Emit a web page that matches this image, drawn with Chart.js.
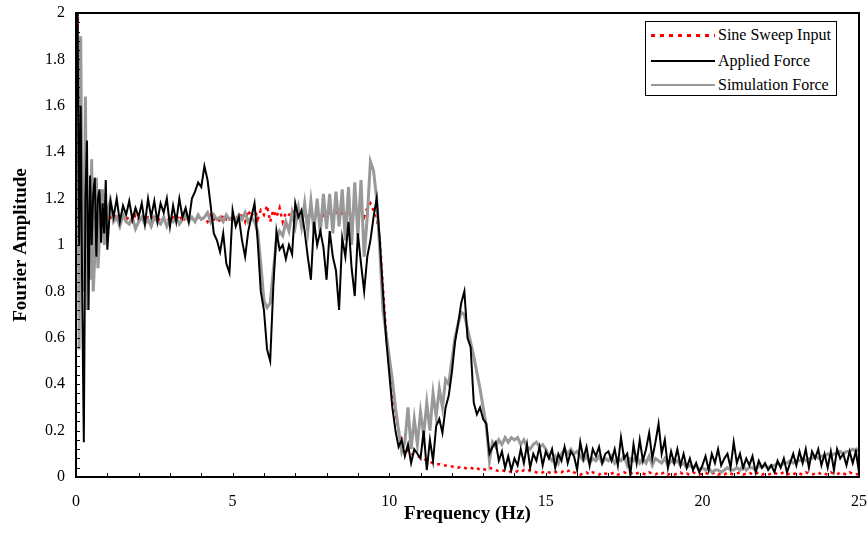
<!DOCTYPE html>
<html>
<head>
<meta charset="utf-8">
<script src="https://cdn.jsdelivr.net/npm/chart.js@4.4.1/dist/chart.umd.min.js"></script>
<style>
  html, body { margin: 0; padding: 0; background: #fff; }
  #wrap { position: relative; width: 868px; height: 547px; }
  #legend {
    position: absolute; left: 645px; top: 21px; width: 192px; height: 75px;
    border: 1px solid #000; background: #fff; box-sizing: border-box;
    font-family: 'Liberation Serif', 'Times New Roman', serif; font-size: 16px; color: #000;
  }
  .row { position: absolute; left: 5px; height: 20px; display: flex; align-items: center; }
  .swatch { width: 64px; height: 3px; margin-right: 3px; }
  .sw-red { background: repeating-linear-gradient(90deg, #f00 0 4px, transparent 4px 9px); }
  .sw-black { height: 2px; background: #000; }
  .sw-gray { height: 2px; background: #999; }
</style>
</head>
<body>
<div id="wrap">
  <canvas id="chart" width="868" height="547"></canvas>
  <div id="legend">
    <div class="row" style="top:3px"><div class="swatch sw-red"></div>Sine Sweep Input</div>
    <div class="row" style="top:29px"><div class="swatch sw-black"></div>Applied Force</div>
    <div class="row" style="top:53px"><div class="swatch sw-gray"></div>Simulation Force</div>
  </div>
</div>
<script>
'use strict';

// ── FREQUENCY GRID (Hz) ──
const FREQ = [
  0, 0.05, 0.1, 0.15, 0.2, 0.25, 0.3, 0.35, 0.4, 0.45, 0.5, 0.55, 0.6, 0.65, 0.7, 0.75, 0.8, 0.85, 0.9, 0.95, 1.0,
  1.1, 1.2, 1.3, 1.4, 1.5, 1.6, 1.7, 1.8, 1.9, 2.0,
  2.1, 2.2, 2.3, 2.4, 2.5, 2.6, 2.7, 2.8, 2.9, 3.0,
  3.1, 3.2, 3.3, 3.4, 3.5, 3.6, 3.7, 3.8, 3.9, 4.0,
  4.1, 4.2, 4.3, 4.4, 4.5, 4.6, 4.7, 4.8, 4.9, 5.0,
  5.1, 5.2, 5.3, 5.4, 5.5, 5.6, 5.7, 5.8, 5.9, 6.0,
  6.1, 6.2, 6.3, 6.4, 6.5, 6.6, 6.7, 6.8, 6.9, 7.0,
  7.1, 7.2, 7.3, 7.4, 7.5, 7.6, 7.7, 7.8, 7.9, 8.0,
  8.1, 8.2, 8.3, 8.4, 8.5, 8.6, 8.7, 8.8, 8.9, 9.0,
  9.1, 9.2, 9.3, 9.4, 9.5, 9.6, 9.7, 9.8, 9.9, 10.0,
  10.1, 10.2, 10.3, 10.4, 10.5, 10.6, 10.7, 10.8, 10.9, 11.0,
  11.1, 11.2, 11.3, 11.4, 11.5, 11.6, 11.7, 11.8, 11.9, 12.0,
  12.1, 12.2, 12.3, 12.4, 12.5, 12.6, 12.7, 12.8, 12.9, 13.0,
  13.1, 13.2, 13.3, 13.4, 13.5, 13.6, 13.7, 13.8, 13.9, 14.0,
  14.1, 14.2, 14.3, 14.4, 14.5, 14.6, 14.7, 14.8, 14.9, 15.0,
  15.1, 15.2, 15.3, 15.4, 15.5, 15.6, 15.7, 15.8, 15.9, 16.0,
  16.1, 16.2, 16.3, 16.4, 16.5, 16.6, 16.7, 16.8, 16.9, 17.0,
  17.1, 17.2, 17.3, 17.4, 17.5, 17.6, 17.7, 17.8, 17.9, 18.0,
  18.1, 18.2, 18.3, 18.4, 18.5, 18.6, 18.7, 18.8, 18.9, 19.0,
  19.1, 19.2, 19.3, 19.4, 19.5, 19.6, 19.7, 19.8, 19.9, 20.0,
  20.1, 20.2, 20.3, 20.4, 20.5, 20.6, 20.7, 20.8, 20.9, 21.0,
  21.1, 21.2, 21.3, 21.4, 21.5, 21.6, 21.7, 21.8, 21.9, 22.0,
  22.1, 22.2, 22.3, 22.4, 22.5, 22.6, 22.7, 22.8, 22.9, 23.0,
  23.1, 23.2, 23.3, 23.4, 23.5, 23.6, 23.7, 23.8, 23.9, 24.0,
  24.1, 24.2, 24.3, 24.4, 24.5, 24.6, 24.7, 24.8, 24.9, 25.0
];

// ── SINE SWEEP INPUT (red dotted) ──
const SWEEP = [
  0.78, 2.0, 1.35, 1.15, 1.1, 1.12, 1.1, 1.13, 1.11, 1.12, 1.1, 1.12, 1.11, 1.13, 1.1, 1.12, 1.11, 1.12, 1.1, 1.12, 1.11,
  1.12, 1.11, 1.13, 1.1, 1.12, 1.11, 1.12, 1.1, 1.13, 1.11,
  1.12, 1.1, 1.12, 1.11, 1.13, 1.1, 1.12, 1.11, 1.12, 1.1,
  1.12, 1.11, 1.13, 1.1, 1.12, 1.11, 1.12, 1.1, 1.12, 1.11,
  1.12, 1.1, 1.13, 1.11, 1.12, 1.1, 1.13, 1.11, 1.12, 1.1,
  1.13, 1.11, 1.14, 1.1, 1.15, 1.12, 1.16, 1.11, 1.15, 1.13,
  1.17, 1.1, 1.15, 1.12, 1.16, 1.1, 1.14, 1.13, 1.15, 1.12,
  1.13, 1.11, 1.14, 1.12, 1.13, 1.11, 1.14, 1.12, 1.13, 1.11,
  1.14, 1.12, 1.15, 1.11, 1.14, 1.13, 1.15, 1.12, 1.14, 1.13,
  1.15, 1.12, 1.16, 1.18, 1.15, 1.12, 1.02, 0.82, 0.62, 0.48,
  0.36, 0.27, 0.2, 0.16, 0.13, 0.11, 0.1, 0.095, 0.09, 0.085,
  0.08, 0.07, 0.065, 0.06, 0.055, 0.055, 0.05, 0.05, 0.045, 0.045,
  0.045, 0.04, 0.045, 0.04, 0.035, 0.04, 0.035, 0.04, 0.03, 0.035,
  0.03, 0.04, 0.035, 0.03, 0.025, 0.03, 0.025, 0.02, 0.025, 0.02,
  0.025, 0.02, 0.03, 0.025, 0.03, 0.025, 0.02, 0.015, 0.02, 0.025,
  0.02, 0.015, 0.02, 0.025, 0.02, 0.03, 0.025, 0.03, 0.02, 0.015,
  0.01, 0.015, 0.02, 0.01, 0.02, 0.015, 0.01, 0.02, 0.015, 0.01,
  0.015, 0.02, 0.01, 0.015, 0.02, 0.015, 0.02, 0.01, 0.015, 0.02,
  0.015, 0.01, 0.02, 0.015, 0.01, 0.02, 0.015, 0.02, 0.01, 0.015,
  0.01, 0.015, 0.02, 0.01, 0.015, 0.01, 0.02, 0.015, 0.01, 0.015,
  0.02, 0.01, 0.015, 0.02, 0.01, 0.015, 0.01, 0.02, 0.015, 0.01,
  0.015, 0.02, 0.01, 0.015, 0.02, 0.01, 0.015, 0.02, 0.01, 0.015,
  0.01, 0.015, 0.02, 0.01, 0.015, 0.02, 0.01, 0.015, 0.01, 0.02,
  0.015, 0.01, 0.02, 0.015, 0.01, 0.015, 0.02, 0.01, 0.015, 0.01,
  0.02, 0.015, 0.01, 0.02, 0.015, 0.01, 0.02, 0.015, 0.01, 0.015
];

// ── APPLIED FORCE (black) ──
const APPLIED = [
  1.55, 2.0, 1.0, 1.6, 0.75, 0.15, 1.2, 1.45, 0.72, 1.3, 1.0, 1.22, 1.29, 0.95, 1.2, 1.24, 1.01, 1.18, 1.05, 1.28, 0.98,
  1.19, 1.12, 1.2, 1.1, 1.17, 1.13, 1.19, 1.11, 1.16, 1.12,
  1.18, 1.09, 1.2, 1.12, 1.19, 1.1, 1.18, 1.14, 1.2, 1.08,
  1.17, 1.1, 1.2, 1.12, 1.16, 1.1, 1.2, 1.23, 1.27, 1.25,
  1.34, 1.28, 1.17, 1.05, 1.02, 0.97, 1.05, 0.92, 0.88, 1.15,
  1.08, 1.12, 1.02, 0.95, 1.06, 1.12, 1.18, 1.02, 0.8, 0.72,
  0.55, 0.5, 0.82, 1.06, 0.98, 1.0, 0.94, 1.0, 0.96, 1.18,
  1.12, 1.15, 1.06, 0.95, 0.85, 1.1, 1.0, 1.06, 0.99, 0.85,
  1.06, 0.95, 0.89, 0.72, 1.03, 0.95, 1.1, 0.9, 0.78, 1.05,
  0.92, 0.8, 0.95, 1.02, 1.12, 1.2, 1.02, 0.8, 0.6, 0.45,
  0.3, 0.2, 0.13, 0.16, 0.09, 0.14, 0.06, 0.12, 0.1, 0.08,
  0.2, 0.03, 0.16, 0.07, 0.22, 0.25, 0.19, 0.3, 0.35, 0.45,
  0.58, 0.66, 0.75, 0.8, 0.6, 0.56, 0.32, 0.27, 0.3, 0.25,
  0.23, 0.1, 0.13, 0.15, 0.07, 0.11, 0.04, 0.09, 0.03, 0.08,
  0.05, 0.12, 0.06, 0.14, 0.04, 0.1, 0.07, 0.13, 0.05, 0.11,
  0.08, 0.12, 0.04, 0.1, 0.07, 0.13, 0.06, 0.11, 0.09, 0.03,
  0.15, 0.08, 0.13, 0.05, 0.12, 0.09, 0.13, 0.06, 0.1, 0.11,
  0.07, 0.12, 0.05, 0.17, 0.08, 0.1, 0.01, 0.14, 0.06, 0.16,
  0.07, 0.12, 0.19, 0.08, 0.15, 0.23, 0.1, 0.16, 0.04, 0.11,
  0.06, 0.12, 0.05, 0.1, 0.04, 0.08, 0.03, 0.06, 0.02, 0.05,
  0.09, 0.03, 0.1, 0.06, 0.12, 0.05, 0.08, 0.1, 0.04, 0.15,
  0.06, 0.1, 0.04, 0.08, 0.05, 0.09, 0.02, 0.07, 0.04, 0.06,
  0.03, 0.05, 0.02, 0.07, 0.04, 0.08, 0.02, 0.06, 0.1, 0.05,
  0.11, 0.06, 0.12, 0.04, 0.11, 0.08, 0.12, 0.05, 0.1, 0.04,
  0.11, 0.03, 0.12, 0.08, 0.1, 0.05, 0.11, 0.06, 0.11, 0.02
];

// ── SIMULATION FORCE (gray) ──
const SIMULATION = [
  1.6, 1.93, 0.55, 1.9, 1.0, 0.8, 1.64, 0.72, 1.1, 0.85, 1.37, 0.8, 0.95, 1.29, 0.9, 1.03, 1.2, 1.24, 1.0, 1.08, 1.15,
  1.19, 1.1, 1.12, 1.08, 1.13, 1.1, 1.09, 1.12, 1.07, 1.1,
  1.12, 1.09, 1.11, 1.08, 1.12, 1.1, 1.09, 1.12, 1.08, 1.11,
  1.1, 1.12, 1.09, 1.11, 1.13, 1.1, 1.12, 1.1, 1.13, 1.11,
  1.12, 1.14, 1.1, 1.13, 1.11, 1.12, 1.1, 1.13, 1.11, 1.12,
  1.1, 1.13, 1.11, 1.14, 1.1, 1.12, 1.1, 1.06, 0.92, 0.76,
  0.73, 0.75, 0.89, 1.02, 1.06, 1.04, 1.1, 1.06, 1.14, 1.08,
  1.16, 1.08, 1.18, 1.06, 1.19, 1.06, 1.2, 1.05, 1.22, 1.07,
  1.22, 1.05, 1.23, 1.08, 1.24, 1.02, 1.25, 1.0, 1.27, 1.04,
  1.28, 0.95, 1.12, 1.36, 1.32, 1.2, 0.98, 0.72, 0.62, 0.52,
  0.42, 0.3, 0.2, 0.11, 0.15, 0.3, 0.12, 0.25, 0.14, 0.28,
  0.18, 0.32, 0.2, 0.36, 0.26, 0.38, 0.3, 0.42, 0.4, 0.5,
  0.6, 0.66, 0.71, 0.7, 0.64, 0.58, 0.52, 0.45, 0.38, 0.3,
  0.22, 0.07, 0.15, 0.13, 0.16, 0.14, 0.17, 0.15, 0.17, 0.16,
  0.17, 0.14, 0.16, 0.13, 0.12, 0.14, 0.15, 0.13, 0.14, 0.12,
  0.09, 0.07, 0.09, 0.06, 0.1, 0.12, 0.1, 0.12, 0.1, 0.11,
  0.09, 0.07, 0.09, 0.06, 0.08, 0.07, 0.09, 0.06, 0.08, 0.07,
  0.09, 0.06, 0.08, 0.07, 0.09, 0.05, 0.08, 0.07, 0.09, 0.06,
  0.08, 0.06, 0.09, 0.05, 0.08, 0.07, 0.06, 0.08, 0.05, 0.07,
  0.06, 0.07, 0.05, 0.06, 0.04, 0.05, 0.04, 0.05, 0.03, 0.04,
  0.03, 0.04, 0.02, 0.03, 0.03, 0.02, 0.03, 0.04, 0.03, 0.03,
  0.04, 0.03, 0.05, 0.03, 0.04, 0.04, 0.03, 0.05, 0.04, 0.05,
  0.04, 0.05, 0.05, 0.06, 0.05, 0.06, 0.06, 0.07, 0.06, 0.07,
  0.07, 0.08, 0.07, 0.08, 0.08, 0.09, 0.08, 0.09, 0.09, 0.1,
  0.09, 0.1, 0.1, 0.11, 0.1, 0.11, 0.11, 0.12, 0.11, 0.12
];

const FONT = "'Liberation Serif', 'Times New Roman', serif";
Chart.defaults.font.family = FONT;
Chart.defaults.color = '#000';

const pairs = vals => FREQ.map((f, i) => ({ x: f, y: vals[i] }));

// ── FRAME + INWARD TICKS ──
const framePlugin = {
  id: 'frame',
  afterDatasetsDraw(chart) {
    const { ctx, chartArea: a, scales: { x, y } } = chart;
    ctx.save();
    ctx.strokeStyle = '#000';
    ctx.lineWidth = 1;
    ctx.beginPath();
    for (let i = 0; i <= 50; i++) {
      const py = Math.round(y.getPixelForValue(i * 0.04)) + 0.5;
      ctx.moveTo(a.left, py); ctx.lineTo(a.left + 4, py);
    }
    for (let i = 0; i <= 25; i++) {
      const px = Math.round(x.getPixelForValue(i)) + 0.5;
      ctx.moveTo(px, a.bottom); ctx.lineTo(px, a.bottom - 4);
    }
    ctx.stroke();
    ctx.lineWidth = 2;
    ctx.strokeRect(a.left, a.top, a.right - a.left, a.bottom - a.top);
    ctx.restore();
  }
};

new Chart(document.getElementById('chart'), {
  type: 'line',
  data: {
    datasets: [
      { label: 'Applied Force', data: pairs(APPLIED), borderColor: '#000', borderWidth: 2, pointRadius: 0, tension: 0, order: 1 },
      { label: 'Simulation Force', data: pairs(SIMULATION), borderColor: '#999', borderWidth: 3, pointRadius: 0, tension: 0, order: 2 },
      { label: 'Sine Sweep Input', data: pairs(SWEEP), borderColor: '#f00', borderWidth: 2.5, borderDash: [3, 4], pointRadius: 0, tension: 0, order: 3 },
    ]
  },
  options: {
    responsive: false,
    animation: false,
    layout: { padding: { top: 13, right: 9, left: 0, bottom: 0 } },
    plugins: { legend: { display: false }, tooltip: { enabled: false } },
    scales: {
      x: {
        type: 'linear', min: 0, max: 25,
        afterFit: s => { s.height = 70; s.paddingLeft = 0; s.paddingRight = 0; },
        ticks: { stepSize: 5, color: '#000', padding: 15, font: { family: FONT, size: 16 }, maxRotation: 0 },
        grid: { display: false, drawTicks: false },
        border: { display: false },
        title: { display: true, text: 'Frequency (Hz)', color: '#000', font: { family: FONT, size: 19, weight: 'bold' }, padding: { top: 0, bottom: 22 } }
      },
      y: {
        min: 0, max: 2,
        afterFit: s => { s.width = 76; s.paddingTop = 0; s.paddingBottom = 0; },
        ticks: { stepSize: 0.2, color: '#000', padding: 11, font: { family: FONT, size: 16 }, callback: v => +v.toFixed(1) },
        grid: { display: false, drawTicks: false },
        border: { display: false },
        title: { display: true, text: 'Fourier Amplitude', color: '#000', font: { family: FONT, size: 19, weight: 'bold' }, padding: { top: 10, bottom: 0 } }
      }
    }
  },
  plugins: [framePlugin]
});
</script>
</body>
</html>
